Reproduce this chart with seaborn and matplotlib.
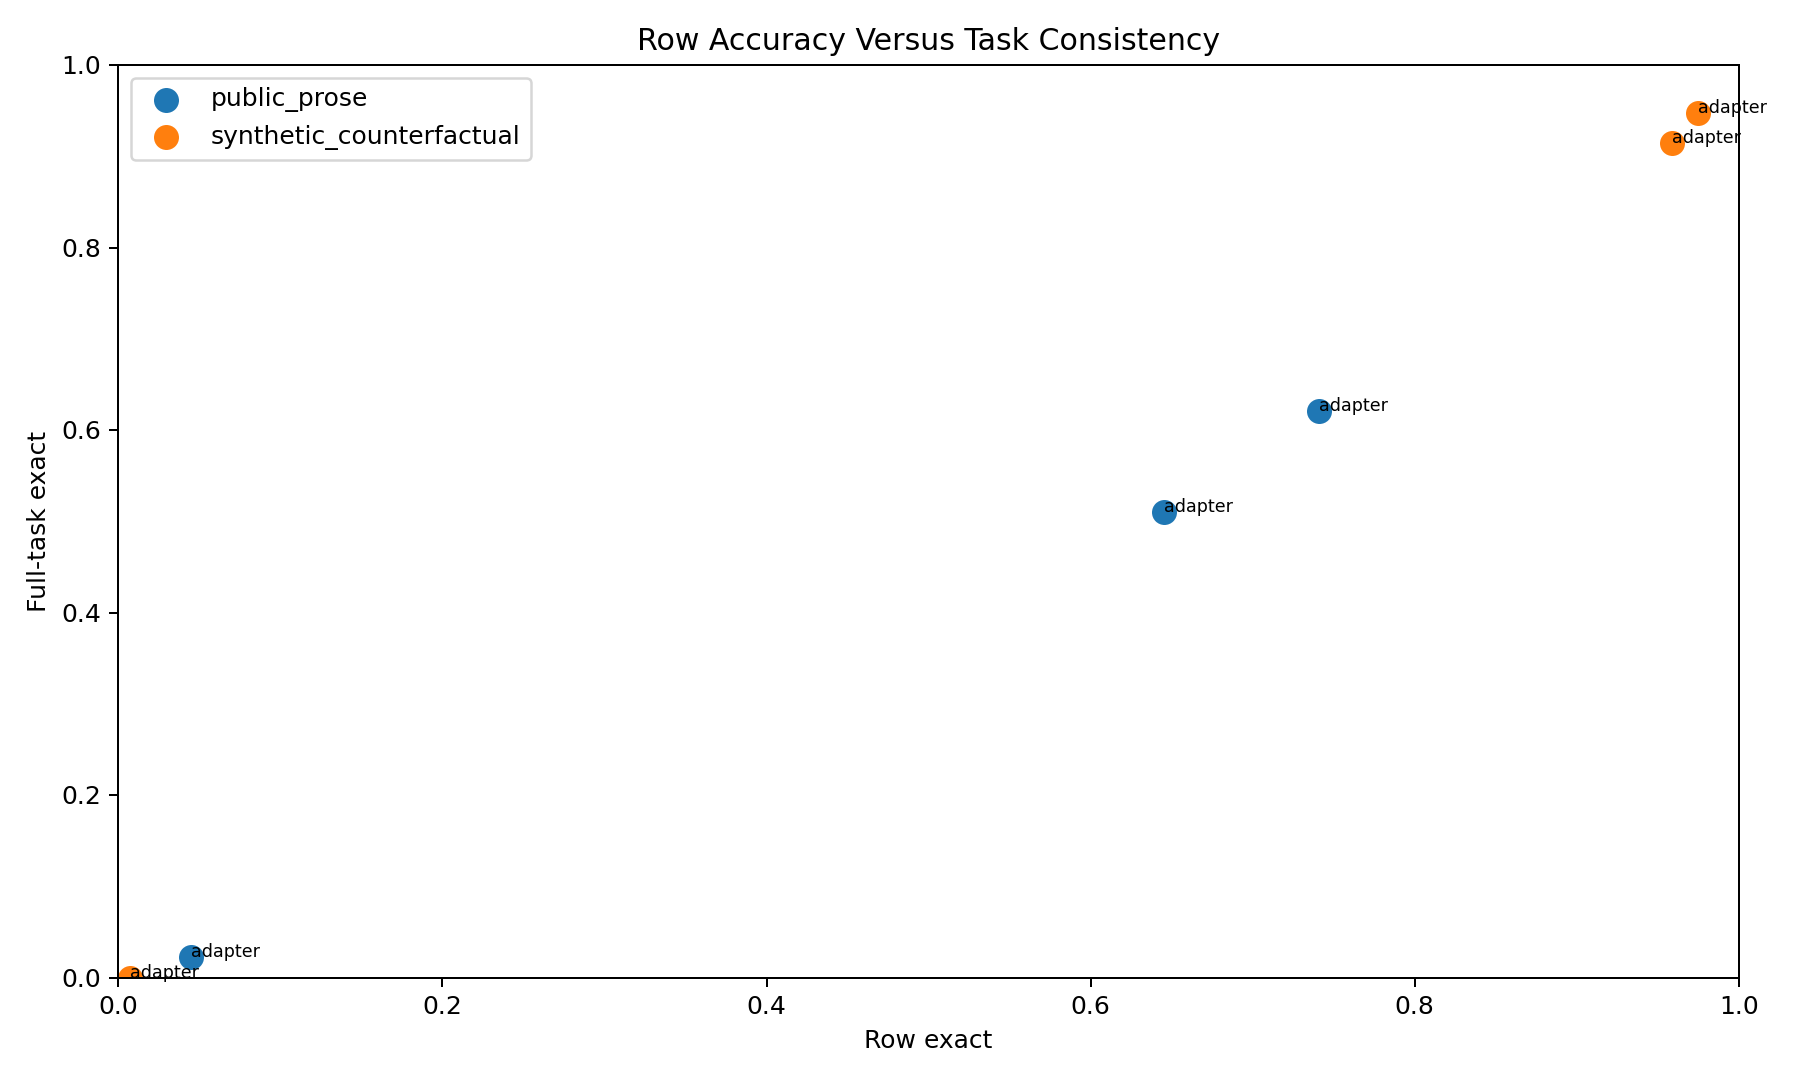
import matplotlib
matplotlib.use("Agg")
import matplotlib.pyplot as plt
import seaborn as sns

# values
datasets = ["public_prose", "synthetic_counterfactual"]
public_row = [0.045, 0.645, 0.741]
public_task = [0.022, 0.510, 0.621]
synth_row = [0.007, 0.959, 0.975]
synth_task = [0.0, 0.915, 0.947]
point_labels = ["adapter", "adapter", "adapter"]

colors = sns.color_palette("tab10", 2)

fig, ax = plt.subplots(figsize=(10, 6), dpi=180)

series = [(public_row, public_task), (synth_row, synth_task)]
for name, (xs, ys), c in zip(datasets, series, colors):
    sns.scatterplot(x=xs, y=ys, ax=ax, s=100, color=c, linewidth=0, label=name)
    for x, y, t in zip(xs, ys, point_labels):
        ax.text(x, y, t, fontsize=7)

ax.set_xlim(0, 1)
ax.set_ylim(0, 1)
ax.set_xlabel("Row exact")
ax.set_ylabel("Full-task exact")
ax.set_title("Row Accuracy Versus Task Consistency")
ax.legend(loc="upper left")

fig.tight_layout()
fig.savefig("out.png", dpi=180)
